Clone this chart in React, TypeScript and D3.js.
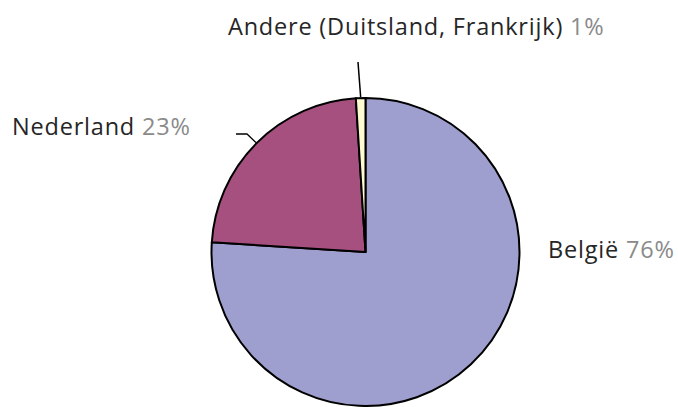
import React from "react";
import * as d3 from "d3";

const categories = ["België", "Nederland", "Andere (Duitsland, Frankrijk)"];
const values = [76, 23, 1];
const percentLabels = ["76%", "23%", "1%"];
const colors = ["#9f9fcf", "#a6507f", "#fffbd0"];

const W = 678;
const H = 407;
const cx = 365.5;
const cy = 252;
const R = 154;

export default function App() {
  const pie = d3.pie<number>().sort(null).value((d) => d)(values);
  const arc = d3.arc<d3.PieArcDatum<number>>().innerRadius(0).outerRadius(R);

  const labelPos = [
    { x: 548, y: 258 },
    { x: 12, y: 135 },
    { x: 228, y: 35 },
  ];

  const outer = (a: number, r: number) => [cx + r * Math.sin(a), cy - r * Math.cos(a)];

  const ned = pie[1];
  const nedMid = (ned.startAngle + ned.endAngle) / 2;
  const nedEdge = outer(nedMid, R);
  const and = pie[2];
  const andMid = (and.startAngle + and.endAngle) / 2;
  const andEdge = outer(andMid, R);

  return (
    <svg width={W} height={H} style={{ position: "absolute", left: 0, top: 0 }}>
      <g transform={`translate(${cx},${cy})`}>
        {pie.map((p, i) => (
          <path key={i} d={arc(p) || ""} fill={colors[i]} stroke="#000" strokeWidth={2} strokeLinejoin="round" />
        ))}
      </g>
      <polyline
        points={`236,134 247,134 ${nedEdge[0]},${nedEdge[1]}`}
        fill="none"
        stroke="#000"
        strokeWidth={1.3}
      />
      <line x1={358} y1={62} x2={andEdge[0]} y2={andEdge[1] - 1} stroke="#000" strokeWidth={1.5} />
      {categories.map((c, i) => (
        <text
          key={i}
          x={labelPos[i].x}
          y={labelPos[i].y}
          fontFamily="'Open Sans', sans-serif"
          fontSize={23.5}
          letterSpacing={0.8}
          fill="#262626"
        >
          {c}
          <tspan fill="#8a8a8a">{" " + percentLabels[i]}</tspan>
        </text>
      ))}
    </svg>
  );
}
